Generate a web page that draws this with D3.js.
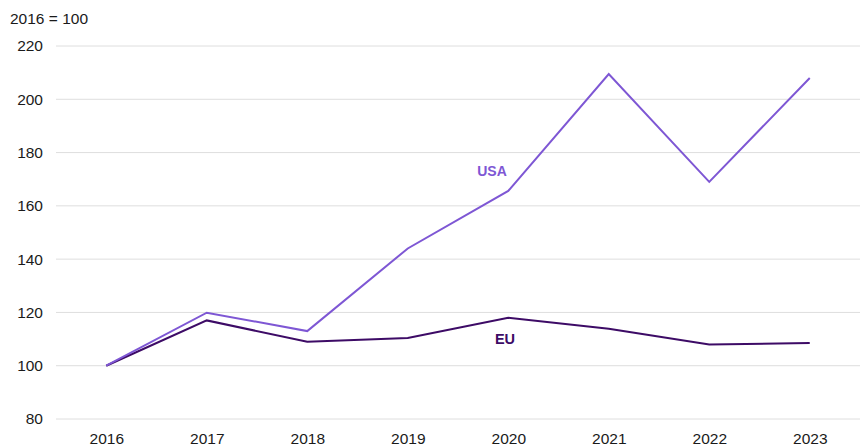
<!DOCTYPE html>
<html>
<head>
<meta charset="utf-8">
<script src="https://cdn.jsdelivr.net/npm/d3@7"></script>
<style>
  body { margin: 0; background: #fff; }
  svg { display: block; font-family: "Liberation Sans", Arial, sans-serif; }
  .grid line { stroke: #dedede; stroke-width: 1; }
  .tick text { fill: #1a1a1a; font-size: 15.5px; }
</style>
</head>
<body>
<svg id="chart" width="860" height="446"></svg>
<script>
// Chart data (index, 2016 = 100)
const years = ['2016', '2017', '2018', '2019', '2020', '2021', '2022', '2023'];
const usaValues = [100, 119.9, 113, 144, 165.6, 209.5, 169, 208];
const euValues = [100, 117, 109, 110.4, 118, 113.9, 108, 108.5];
const yTicks = [80, 100, 120, 140, 160, 180, 200, 220];

const svg = d3.select('#chart');
const margin = { top: 46, right: 0, bottom: 27, left: 56 };
const width = 860, height = 446;

const x = d3.scalePoint()
    .domain(years)
    .range([margin.left, width - margin.right])
    .padding(0.5);

const y = d3.scaleLinear()
    .domain([80, 220])
    .range([height - margin.bottom, margin.top]);

// Horizontal grid lines
svg.append('g')
    .attr('class', 'grid')
    .selectAll('line')
    .data(yTicks)
    .enter()
    .append('line')
    .attr('x1', margin.left)
    .attr('x2', width)
    .attr('y1', d => y(d))
    .attr('y2', d => y(d));

// Y axis labels
const yAxis = svg.append('g')
    .attr('transform', `translate(${margin.left},0)`)
    .call(d3.axisLeft(y).tickValues(yTicks).tickSize(0).tickPadding(13));
yAxis.select('.domain').remove();

// X axis labels
const xAxis = svg.append('g')
    .attr('transform', `translate(0,${height - margin.bottom})`)
    .call(d3.axisBottom(x).tickSize(0).tickPadding(14));
xAxis.select('.domain').remove();

// Unit label
svg.append('text')
    .attr('x', 10)
    .attr('y', 24)
    .attr('font-size', 15.5)
    .attr('fill', '#1a1a1a')
    .text('2016 = 100');

const line = d3.line()
    .x((d, i) => x(years[i]))
    .y(d => y(d));

svg.append('path')
    .datum(euValues)
    .attr('fill', 'none')
    .attr('stroke', '#3d0b66')
    .attr('stroke-width', 2)
    .attr('d', line);

svg.append('path')
    .datum(usaValues)
    .attr('fill', 'none')
    .attr('stroke', '#7e57d4')
    .attr('stroke-width', 2)
    .attr('d', line);

// Series labels
svg.append('text')
    .attr('x', 492)
    .attr('y', 176)
    .attr('text-anchor', 'middle')
    .attr('font-size', 14)
    .attr('font-weight', 'bold')
    .attr('fill', '#7e57d4')
    .text('USA');

svg.append('text')
    .attr('x', 505)
    .attr('y', 344)
    .attr('text-anchor', 'middle')
    .attr('font-size', 14.5)
    .attr('font-weight', 'bold')
    .attr('fill', '#3d0b66')
    .text('EU');
</script>
</body>
</html>
